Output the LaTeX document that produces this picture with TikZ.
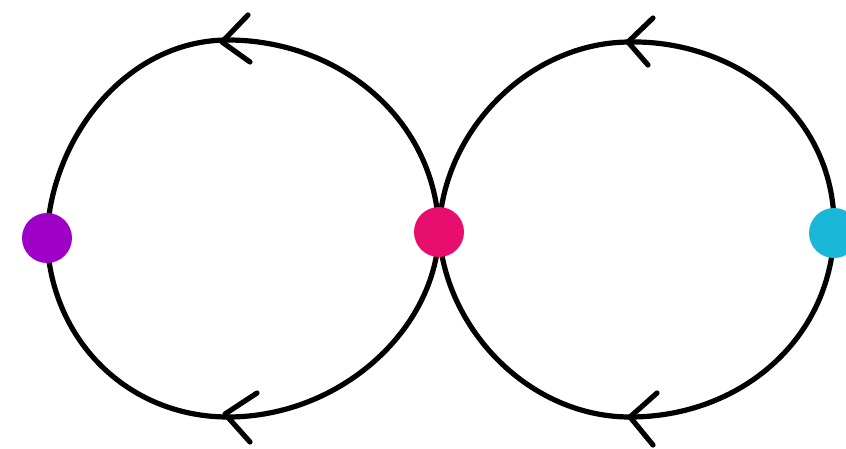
\documentclass[tikz,border=0pt]{standalone}
\usepackage{xcolor}
\usepackage{tikz}

\definecolor{dotpurple}{RGB}{158,0,200}
\definecolor{dotmagenta}{RGB}{232,14,112}
\definecolor{dotcyan}{RGB}{27,183,217}

\begin{document}
\begin{tikzpicture}[x=1pt, y=-1pt,
  loop/.style={line width=5.2pt, line cap=round, line join=round},
  dot/.style={circle, inner sep=0pt, minimum size=50pt}
]
  \useasboundingbox (0,0) rectangle (846,448);

  % Points where the loops meet
  \coordinate (pur) at (47,238);
  \coordinate (mag) at (439,232);
  \coordinate (cya) at (834,233);
  \coordinate (ltop) at (228,40);
  \coordinate (lbot) at (228,417);
  \coordinate (rtop) at (630,42);
  \coordinate (rbot) at (630,417);

  % Left loop
  \draw[loop] (pur) .. controls (50,140) and (125,40) .. (ltop)
    .. controls (338,40) and (436,118) .. (mag);
  \draw[loop] (pur) .. controls (50,340) and (128,417) .. (lbot)
    .. controls (340,417) and (436,330) .. (mag);

  % Right loop
  \draw[loop] (mag) .. controls (442,130) and (530,42) .. (rtop)
    .. controls (735,40) and (838,115) .. (cya);
  \draw[loop] (mag) .. controls (445,330) and (530,417) .. (rbot)
    .. controls (740,417) and (830,340) .. (cya);

  % Arrow heads (all pointing left)
  \draw[loop] (248,15) -- (222,42) -- (250,62);
  \draw[loop] (257,393) -- (225,414) -- (250,442);
  \draw[loop] (653,18) -- (628,42) -- (648,65);
  \draw[loop] (657,393) -- (630,417) -- (653,445);

  % Dots
  \node[dot, fill=dotpurple]  (purdot) at (pur) {};
  \node[dot, fill=dotmagenta] (magdot) at (mag) {};
  \node[dot, fill=dotcyan]    (cyadot) at (cya) {};
\end{tikzpicture}
\end{document}
